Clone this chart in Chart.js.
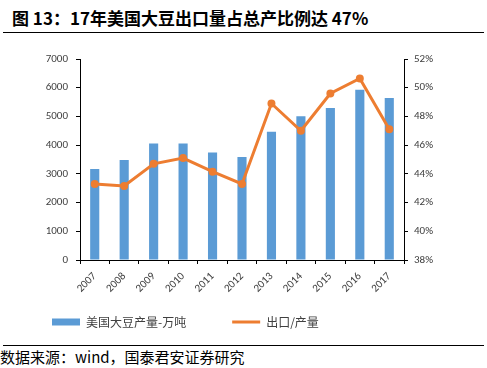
<!DOCTYPE html>
<html>
<head>
<meta charset="utf-8">
<script src="https://cdn.jsdelivr.net/npm/chart.js@4/dist/chart.umd.min.js"></script>
<style>
  body { margin: 0; background: #fff; width: 487px; height: 368px; overflow: hidden; position: relative; }
  #title { position: absolute; left: 12px; top: 5px; font: bold 17px "Noto Sans CJK SC", sans-serif; color: #000; white-space: nowrap; }
  .rule { position: absolute; left: 3px; width: 481px; height: 0; border-top: 1px solid #000; }
  #src { position: absolute; left: 0; top: 346px; font: 15px "Noto Sans CJK SC", serif; color: #000; white-space: nowrap; }
  #wrap { position: absolute; left: 0; top: 38px; width: 487px; height: 300px; }
</style>
</head>
<body>
<div id="title">图 13：17年美国大豆出口量占总产比例达 47%</div>
<div class="rule" style="top:32px"></div>
<div id="wrap"><canvas id="c"></canvas></div>
<div class="rule" style="top:345px"></div>
<div id="src">数据来源：wind，国泰君安证券研究</div>
<script>
const years = ["2007", "2008", "2009", "2010", "2011", "2012", "2013", "2014", "2015", "2016", "2017"];
const output = [3170, 3480, 4060, 4060, 3740, 3590, 4470, 5010, 5290, 5930, 5640];
const exportRatio = [43.3, 43.15, 44.7, 45.1, 44.15, 43.3, 48.9, 47.0, 49.6, 50.65, 47.1];

const blue = "#5B9BD5";
const orange = "#ED7D31";
const tickFont = { family: "Calibri, Carlito, 'Noto Sans', sans-serif", size: 11 };

new Chart(document.getElementById("c"), {
  data: {
    labels: years,
    datasets: [
      {
        type: "line",
        label: "出口/产量",
        data: exportRatio,
        yAxisID: "y1",
        borderColor: orange,
        backgroundColor: orange,
        borderWidth: 3,
        pointRadius: 2.5,
        pointStyle: "circle",
        tension: 0,
        order: 0
      },
      {
        type: "bar",
        label: "美国大豆产量-万吨",
        data: output,
        yAxisID: "y",
        backgroundColor: blue,
        barPercentage: 0.31,
        categoryPercentage: 1,
        order: 1
      }
    ]
  },
  options: {
    responsive: true,
    maintainAspectRatio: false,
    animation: false,
    layout: { padding: { left: 42, right: 33, top: 21, bottom: 0 } },
    plugins: {
      tooltip: { enabled: false },
      legend: {
        position: "bottom",
        align: "start",
        reverse: true,
        labels: {
          color: "#404040",
          font: { family: "'Noto Sans CJK SC', sans-serif", size: 12 },
          padding: 10,
          boxHeight: 7,
          usePointStyle: true,
          pointStyleWidth: 28,
          // full-width spaces widen the gap between the two entries
          generateLabels: chart => chart.data.datasets.map((ds, i) => ({
            text: ds.type === "bar" ? ds.label + "\u3000\u3000\u3000" : ds.label,
            fillStyle: ds.type === "bar" ? blue : orange,
            strokeStyle: ds.type === "bar" ? blue : orange,
            lineWidth: ds.type === "bar" ? 0 : 3,
            pointStyle: ds.type === "bar" ? "rect" : "line",
            fontColor: "#404040",
            datasetIndex: i,
            hidden: false
          }))
        }
      }
    },
    scales: {
      x: {
        grid: { display: true, drawOnChartArea: false, offset: true, color: "#000", tickLength: 4 },
        border: { color: "#000" },
        ticks: { color: "#404040", font: tickFont, maxRotation: 45, minRotation: 45, padding: 6 },
        afterFit: s => { s.height = 46; }
      },
      y: {
        position: "left",
        min: 0,
        max: 7000,
        grid: { drawOnChartArea: false, color: "#000", tickLength: 4 },
        border: { color: "#000" },
        ticks: { stepSize: 1000, color: "#404040", font: tickFont, padding: 8, callback: v => String(v) },
        afterFit: s => { s.width = 38; }
      },
      y1: {
        position: "right",
        min: 38,
        max: 52,
        grid: { drawOnChartArea: false, color: "#000", tickLength: 4 },
        border: { color: "#000" },
        ticks: { stepSize: 2, color: "#404040", font: tickFont, padding: 6, callback: v => v + "%" },
        afterFit: s => { s.width = 50; }
      }
    }
  }
});
</script>
</body>
</html>
